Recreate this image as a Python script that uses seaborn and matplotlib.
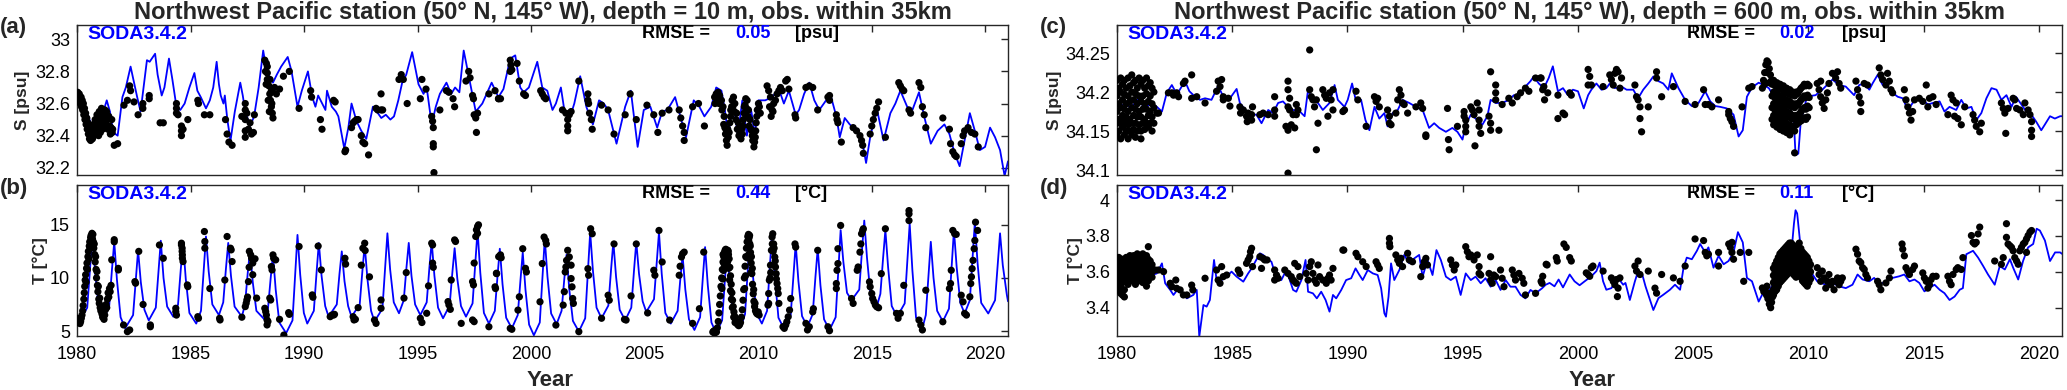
import matplotlib
matplotlib.use("Agg")
import matplotlib.pyplot as plt
import seaborn as sns

sns.set_theme(style="white")
plt.rcParams['font.family'] = ['Liberation Sans', 'DejaVu Sans']

# ---------------- data ----------------
year_ticks = [1980, 1985, 1990, 1995, 2000, 2005, 2010, 2015, 2020]

title_10 = "Northwest Pacific station (50° N, 145° W), depth = 10 m, obs. within 35km"
title_600 = "Northwest Pacific station (50° N, 145° W), depth = 600 m, obs. within 35km"
panel_labels = ["(a)", "(b)", "(c)", "(d)"]
model_name = "SODA3.4.2"
rmse_values = ["0.05", "0.44", "0.02", "0.11"]
rmse_units = ["[psu]", "[°C]", "[psu]", "[°C]"]
y_labels = ["S [psu]", "T [°C]", "S [psu]", "T [°C]"]

s10_ticks = [32.2, 32.4, 32.6, 32.8, 33.0]
s10_ticklabels = ["32.2", "32.4", "32.6", "32.8", "33"]
t10_ticks = [5, 10, 15]
t10_ticklabels = ["5", "10", "15"]
s600_ticks = [34.1, 34.15, 34.2, 34.25]
s600_ticklabels = ["34.1", "34.15", "34.2", "34.25"]
t600_ticks = [3.4, 3.6, 3.8, 4.0]
t600_ticklabels = ["3.4", "3.6", "3.8", "4"]

# ---- (a) salinity 10 m : model ----
s10_model = [
(1980.00,32.65),(1980.30,32.60),(1980.60,32.48),(1980.90,32.45),(1981.10,32.52),(1981.31,32.62),(1981.45,32.55),
(1981.60,32.42),(1981.79,32.40),(1982.00,32.64),(1982.15,32.70),(1982.36,32.83),(1982.51,32.73),(1982.65,32.64),
(1982.80,32.55),(1983.08,32.87),(1983.20,32.86),(1983.44,32.91),(1983.55,32.78),(1983.73,32.65),(1983.85,32.70),
(1984.05,32.88),(1984.20,32.75),(1984.38,32.58),(1984.55,32.56),(1984.74,32.60),(1984.95,32.70),(1985.17,32.79),
(1985.30,32.68),(1985.45,32.64),(1985.68,32.57),(1985.85,32.62),(1986.00,32.70),(1986.15,32.86),(1986.25,32.72),
(1986.33,32.65),(1986.45,32.60),(1986.51,32.65),(1986.62,32.50),(1986.76,32.37),(1986.95,32.55),(1987.19,32.73),
(1987.30,32.65),(1987.41,32.55),(1987.62,32.46),(1987.80,32.52),(1988.00,32.70),(1988.20,32.93),(1988.35,32.80),
(1988.63,32.73),(1988.80,32.78),(1988.99,32.83),(1989.28,32.89),(1989.45,32.80),(1989.71,32.58),(1989.90,32.68),
(1990.17,32.80),(1990.36,32.64),(1990.50,32.58),(1990.62,32.65),(1990.80,32.60),(1990.94,32.56),(1991.01,32.68),
(1991.22,32.58),(1991.40,32.55),(1991.51,32.52),(1991.77,32.32),(1991.95,32.45),(1992.09,32.60),(1992.31,32.49),
(1992.52,32.43),(1992.74,32.38),(1993.03,32.58),(1993.20,32.55),(1993.40,32.51),(1993.60,32.53),(1993.80,32.50),
(1993.96,32.52),(1994.15,32.62),(1994.32,32.73),(1994.50,32.78),(1994.76,32.92),(1995.04,32.72),(1995.26,32.66),
(1995.40,32.70),(1995.62,32.47),(1995.80,32.58),(1995.98,32.66),(1996.27,32.73),(1996.48,32.66),(1996.65,32.70),
(1996.84,32.67),(1997.03,32.93),(1997.28,32.75),(1997.56,32.55),(1997.85,32.60),(1998.10,32.68),(1998.26,32.73),
(1998.56,32.64),(1998.78,32.69),(1999.08,32.88),(1999.30,32.90),(1999.52,32.70),(1999.67,32.67),(1999.90,32.70),
(2000.27,32.86),(2000.49,32.70),(2000.71,32.68),(2000.94,32.56),(2001.09,32.60),(2001.31,32.70),(2001.46,32.56),
(2001.68,32.50),(2001.90,32.60),(2002.16,32.77),(2002.43,32.58),(2002.72,32.47),(2002.99,32.62),(2003.20,32.60),
(2003.39,32.56),(2003.76,32.35),(2004.14,32.58),(2004.39,32.68),(2004.69,32.33),(2004.96,32.56),(2005.25,32.58),
(2005.55,32.45),(2005.77,32.55),(2006.00,32.56),(2006.34,32.64),(2006.59,32.51),(2006.82,32.39),(2007.16,32.62),
(2007.41,32.58),(2007.63,32.52),(2007.93,32.58),(2008.15,32.70),(2008.38,32.68),(2008.53,32.56),(2008.68,32.40),
(2008.90,32.62),(2009.10,32.40),(2009.30,32.62),(2009.50,32.40),(2009.70,32.55),(2009.85,32.40),(2010.01,32.62),
(2010.31,32.62),(2010.61,32.64),(2010.91,32.69),(2011.13,32.60),(2011.35,32.68),(2011.65,32.53),(2011.80,32.56),
(2012.02,32.66),(2012.25,32.73),(2012.47,32.62),(2012.69,32.56),(2012.99,32.62),(2013.21,32.64),(2013.44,32.52),
(2013.59,32.39),(2013.81,32.51),(2014.03,32.47),(2014.33,32.43),(2014.55,32.39),(2014.75,32.23),(2014.93,32.39),
(2015.22,32.57),(2015.52,32.37),(2015.82,32.54),(2016.04,32.60),(2016.26,32.68),(2016.56,32.58),(2016.79,32.56),
(2017.08,32.67),(2017.31,32.52),(2017.60,32.35),(2017.90,32.43),(2018.20,32.47),(2018.42,32.41),(2018.65,32.29),
(2018.87,32.21),(2019.09,32.37),(2019.32,32.54),(2019.54,32.43),(2019.76,32.31),(2019.99,32.33),(2020.21,32.45),
(2020.43,32.39),(2020.65,32.31),(2020.85,32.15),(2021.00,32.24)]

# ---- (a) salinity 10 m : observations ----
s10_obs = [
(1980.00,32.66),(1980.00,32.62),(1980.03,32.67),(1980.05,32.64),(1980.07,32.61),(1980.10,32.66),(1980.12,32.63),
(1980.15,32.60),(1980.18,32.64),(1980.20,32.58),(1980.23,32.62),(1980.25,32.56),(1980.28,32.60),(1980.30,32.53),
(1980.33,32.57),(1980.35,32.50),(1980.38,32.54),(1980.40,32.47),(1980.43,32.51),(1980.45,32.44),(1980.48,32.48),
(1980.50,32.41),(1980.53,32.45),(1980.55,32.38),(1980.58,32.42),(1980.60,32.37),(1980.63,32.40),(1980.65,32.44),
(1980.68,32.38),(1980.70,32.42),(1980.73,32.47),(1980.75,32.40),(1980.78,32.45),(1980.80,32.50),(1980.83,32.43),
(1980.85,32.48),(1980.88,32.53),(1980.90,32.45),(1980.93,32.50),(1980.95,32.40),(1980.98,32.55),(1981.00,32.47),
(1981.03,32.42),(1981.05,32.52),(1981.08,32.57),(1981.10,32.48),(1981.13,32.44),(1981.15,32.54),(1981.18,32.50),
(1981.20,32.45),(1981.23,32.56),(1981.25,32.52),(1981.28,32.47),(1981.30,32.55),(1981.33,32.50),(1981.36,32.44),
(1981.40,32.52),(1981.43,32.46),(1981.47,32.41),(1981.50,32.45),(1981.53,32.50),(1981.55,32.42),
(1981.57,32.44),(1981.64,32.34),(1981.79,32.35),(1982.07,32.59),(1982.22,32.62),(1982.32,32.71),(1982.36,32.68),
(1982.51,32.61),(1982.69,32.53),(1982.90,32.60),(1982.90,32.57),(1983.18,32.65),(1983.18,32.63),(1983.66,32.48),
(1983.80,32.48),(1984.38,32.60),(1984.38,32.57),(1984.38,32.54),(1984.45,32.53),(1984.60,32.46),(1984.60,32.43),
(1984.60,32.40),(1984.67,32.44),(1984.88,32.50),(1985.32,32.62),(1985.35,32.60),(1985.61,32.53),(1985.85,32.53),
(1986.54,32.50),(1986.61,32.41),(1986.69,32.36),(1986.83,32.34),(1987.26,32.52),(1987.41,32.60),(1987.41,32.56),
(1987.41,32.50),(1987.41,32.43),(1987.41,32.39),(1987.48,32.54),(1987.55,32.44),(1987.62,32.48),(1987.69,32.41),
(1987.77,32.42),(1987.81,32.53),
(1988.27,32.87),(1988.34,32.85),(1988.38,32.83),(1988.38,32.79),(1988.38,32.75),(1988.45,32.71),(1988.49,32.66),
(1988.52,32.62),(1988.56,32.58),(1988.60,32.54),(1988.63,32.51),(1988.56,32.68),(1988.70,32.70),(1988.78,32.66),
(1988.92,32.69),(1989.09,32.77),(1989.35,32.80),(1988.30,32.80),(1988.33,32.72),(1988.42,32.62),(1988.47,32.55),
(1988.50,32.75),(1988.58,32.60),
(1989.78,32.57),(1990.29,32.68),(1990.33,32.64),(1990.72,32.50),(1990.79,32.44),(1991.30,32.62),(1991.37,32.61),
(1991.80,32.30),(1991.83,32.31),(1992.09,32.45),(1992.16,32.48),(1992.23,32.49),(1992.31,32.50),(1992.38,32.50),
(1992.52,32.40),(1992.59,32.36),(1992.67,32.35),(1992.84,32.28),(1993.17,32.57),(1993.24,32.56),(1993.39,32.66),
(1993.39,32.56),(1993.46,32.56),(1994.18,32.75),(1994.28,32.78),(1994.37,32.75),(1994.54,32.60),(1995.12,32.63),
(1995.19,32.75),(1995.37,32.69),(1995.62,32.52),(1995.66,32.49),(1995.69,32.45),(1995.69,32.35),(1995.69,32.33),
(1995.72,32.17),(1995.98,32.56),(1996.27,32.68),(1996.38,32.67),(1996.56,32.63),(1996.63,32.58),(1997.13,32.74),
(1997.25,32.80),(1997.31,32.76),(1997.42,32.65),(1997.46,32.63),(1997.49,32.53),(1997.56,32.51),(1997.59,32.42),
(1997.64,32.54),(1998.14,32.66),(1998.57,32.63),(1998.65,32.63),(1999.08,32.87),(1999.08,32.80),
(1998.41,32.68),(1998.56,32.63),(1999.11,32.84),(1999.15,32.81),(1999.38,32.85),(1999.48,32.74),(1999.67,32.66),
(1999.75,32.65),(2000.42,32.68),(2000.49,32.66),(2000.57,32.64),(2000.64,32.63),(2001.38,32.56),(2001.53,32.54),
(2001.61,32.50),(2001.61,32.46),(2001.68,32.53),(2001.76,32.55),(2001.61,32.43),(2002.10,32.74),(2002.50,32.66),
(2002.50,32.62),(2002.53,32.60),(2002.57,32.54),(2002.65,32.50),(2002.69,32.44),(2003.10,32.59),(2003.39,32.56),
(2003.65,32.41),(2004.14,32.53),(2004.36,32.66),(2004.63,32.50),(2005.10,32.59),(2005.40,32.53),(2005.58,32.42),
(2005.77,32.54),(2006.07,32.56),(2006.52,32.56),(2006.59,32.51),(2006.67,32.46),(2006.74,32.42),(2006.74,32.37),
(2007.11,32.58),(2007.37,32.60),(2007.63,32.46),
(2008.08,32.64),(2008.15,32.66),(2008.23,32.67),(2008.30,32.65),(2008.38,32.62),(2008.45,32.58),(2008.50,32.52),
(2008.53,32.45),(2008.56,32.41),(2008.60,32.37),(2008.63,32.34),(2008.68,32.39),(2008.75,32.48),(2008.79,32.56),
(2008.85,32.62),(2008.91,32.64),(2008.97,32.60),(2009.05,32.54),(2009.12,32.48),(2009.20,32.42),(2009.24,32.38),
(2009.30,32.41),(2009.35,32.50),(2009.39,32.58),(2009.45,32.63),(2009.51,32.62),(2009.57,32.56),(2009.64,32.50),
(2009.72,32.43),(2009.76,32.37),(2009.81,32.33),(2009.87,32.39),(2009.91,32.48),(2009.96,32.56),(2010.01,32.60),
(2010.09,32.54),(2008.10,32.60),(2008.20,32.62),(2008.28,32.60),(2008.40,32.56),(2008.48,32.47),(2008.58,32.44),
(2008.66,32.44),(2008.72,32.42),(2008.78,32.52),(2008.83,32.58),(2008.88,32.58),(2008.95,32.55),(2009.02,32.50),
(2009.08,32.44),(2009.15,32.40),(2009.27,32.44),(2009.32,32.46),(2009.38,32.54),(2009.42,32.59),(2009.48,32.57),
(2009.55,32.52),(2009.60,32.46),(2009.68,32.44),(2009.74,32.40),(2009.84,32.36),(2009.89,32.43),(2009.94,32.52),
(2010.05,32.58),
(2010.39,32.71),(2010.46,32.68),(2010.54,32.64),(2010.61,32.56),(2010.68,32.60),(2010.76,32.62),(2010.83,32.66),
(2010.91,32.68),(2010.98,32.70),(2011.06,32.68),(2011.21,32.74),(2011.28,32.75),(2011.35,32.69),(2010.50,32.58),
(2010.57,32.52),(2010.65,32.55),(2011.62,32.53),(2011.65,32.51),(2012.10,32.70),(2012.25,32.71),(2012.40,32.70),
(2012.62,32.56),(2013.07,32.64),(2013.14,32.65),(2013.14,32.62),(2013.44,32.53),(2013.47,32.50),(2013.51,32.48),
(2013.66,32.36),(2014.18,32.45),(2014.33,32.43),(2014.48,32.40),(2014.55,32.37),(2014.60,32.34),(2014.63,32.29),
(2014.93,32.41),(2015.00,32.46),(2015.07,32.50),(2015.15,32.54),(2015.22,32.57),(2015.30,32.61),(2015.60,32.39),
(2016.19,32.73),(2016.26,32.71),(2016.34,32.69),(2016.41,32.68),(2016.64,32.56),(2016.71,32.54),(2017.08,32.73),
(2017.16,32.70),(2017.23,32.58),(2017.31,32.53),(2017.38,32.45),(2018.13,32.51),(2018.42,32.44),(2018.47,32.35),
(2018.57,32.30),(2018.65,32.28),(2018.72,32.27),(2018.94,32.35),(2019.02,32.40),(2019.09,32.43),(2019.24,32.45),
(2019.39,32.42),(2019.54,32.41),(2019.69,32.33)]

# ---- (b) temperature 10 m : model ----
t10_model = [
(1980.00,6.1),(1980.13,6.0),(1980.45,7.2),(1980.58,11.0),(1980.68,14.0),(1980.80,10.5),(1980.96,7.2),
(1981.20,6.2),(1981.42,7.4),(1981.54,10.8),(1981.64,13.4),(1981.76,9.8),(1981.92,6.3),
(1982.12,5.25),(1982.47,6.5),(1982.59,9.9),(1982.69,12.6),(1982.81,9.6),(1982.97,7.0),
(1983.16,6.0),(1983.47,7.2),(1983.59,10.7),(1983.69,13.5),(1983.81,10.0),(1983.97,7.3),
(1984.24,6.35),(1984.45,7.5),(1984.57,10.8),(1984.67,13.3),(1984.79,9.9),(1984.95,6.7),
(1985.25,5.7),(1985.46,6.9),(1985.58,10.8),(1985.68,13.9),(1985.80,10.6),(1985.96,7.5),
(1986.25,6.5),(1986.44,7.7),(1986.56,10.9),(1986.66,13.3),(1986.78,10.2),(1986.94,7.3),
(1987.26,6.35),(1987.40,7.5),(1987.52,10.5),(1987.62,12.6),(1987.74,9.6),(1987.90,6.9),
(1988.34,5.9),(1988.41,7.1),(1988.53,10.0),(1988.63,12.2),(1988.75,8.9),(1988.91,5.8),
(1989.21,4.8),(1989.49,6.0),(1989.61,10.4),(1989.71,14.05),(1989.83,10.3),(1989.99,6.7),
(1990.14,5.7),(1990.43,6.9),(1990.55,10.5),(1990.65,13.3),(1990.77,10.2),(1990.93,7.35),
(1991.08,6.35),(1991.44,7.5),(1991.56,10.4),(1991.66,12.5),(1991.78,9.7),(1991.94,7.35),
(1992.09,6.35),(1992.45,7.5),(1992.57,10.7),(1992.67,13.1),(1992.79,9.9),(1992.95,6.9),
(1993.10,5.9),(1993.45,7.1),(1993.57,11.0),(1993.67,14.2),(1993.79,10.8),(1993.95,7.7),
(1994.18,6.67),(1994.39,7.9),(1994.51,11.0),(1994.61,13.3),(1994.73,10.2),(1994.89,7.5),
(1995.12,6.5),(1995.40,7.7),(1995.52,11.0),(1995.62,13.4),(1995.74,10.2),(1995.90,7.2),
(1996.12,6.2),(1996.41,7.4),(1996.53,10.5),(1996.63,12.8),(1996.75,9.9),(1996.91,7.35),
(1997.13,6.35),(1997.42,7.6),(1997.54,11.4),(1997.64,14.5),(1997.76,10.5),(1997.92,6.7),
(1998.14,5.7),(1998.40,6.9),(1998.52,10.2),(1998.62,12.75),(1998.74,9.4),(1998.90,6.25),
(1999.15,5.25),(1999.41,6.5),(1999.53,9.8),(1999.63,12.4),(1999.75,8.9),(1999.91,5.6),
(2000.12,4.6),(2000.38,5.8),(2000.50,10.2),(2000.60,13.7),(2000.72,10.1),(2000.88,6.65),
(2001.12,5.65),(2001.34,6.9),(2001.46,9.9),(2001.56,12.2),(2001.68,8.9),(2001.84,5.95),
(2002.10,4.95),(2002.38,6.2),(2002.50,10.6),(2002.60,14.3),(2002.72,10.7),(2002.88,7.2),
(2003.10,6.2),(2003.40,7.4),(2003.52,10.8),(2003.62,13.4),(2003.74,10.1),(2003.90,7.0),
(2004.14,6.0),(2004.41,7.2),(2004.53,10.7),(2004.63,13.4),(2004.75,10.4),(2004.91,7.8),
(2005.07,6.8),(2005.41,8.0),(2005.53,11.5),(2005.63,14.3),(2005.75,10.4),(2005.91,6.7),
(2006.15,5.7),(2006.45,6.9),(2006.57,9.9),(2006.67,12.1),(2006.79,8.9),(2006.95,6.1),
(2007.19,5.1),(2007.44,6.3),(2007.56,10.0),(2007.66,12.9),(2007.78,9.3),(2007.94,5.8),
(2008.15,4.8),(2008.41,6.0),(2008.53,9.7),(2008.63,12.6),(2008.75,9.4),(2008.91,6.4),
(2009.24,5.4),(2009.42,6.6),(2009.54,10.8),(2009.64,14.2),(2009.76,10.4),(2009.92,6.7),
(2010.16,5.7),(2010.39,6.9),(2010.51,11.0),(2010.61,14.2),(2010.73,10.2),(2010.89,6.25),
(2011.13,5.25),(2011.43,6.5),(2011.55,10.2),(2011.65,13.2),(2011.77,9.7),(2011.93,6.4),
(2012.17,5.4),(2012.40,6.6),(2012.52,10.1),(2012.62,12.75),(2012.74,9.3),(2012.90,6.1),
(2013.14,5.1),(2013.41,6.3),(2013.53,10.8),(2013.63,14.5),(2013.75,11.5),(2013.91,8.6),
(2014.11,7.9),(2014.45,8.9),(2014.57,12.6),(2014.67,15.4),(2014.79,11.9),(2014.95,8.3),
(2015.22,7.3),(2015.38,8.5),(2015.50,11.9),(2015.60,14.5),(2015.72,11.0),(2015.88,7.35),
(2016.12,6.35),(2016.45,7.6),(2016.57,11.7),(2016.67,15.1),(2016.79,10.7),(2016.95,6.25),
(2017.23,5.25),(2017.38,6.5),(2017.50,10.3),(2017.60,13.4),(2017.72,10.0),(2017.88,6.9),
(2018.13,5.9),(2018.40,7.1),(2018.52,11.2),(2018.62,14.5),(2018.74,11.0),(2018.90,7.65),
(2019.09,6.65),(2019.32,7.9),(2019.44,12.0),(2019.54,15.25),(2019.66,11.4),(2019.82,7.65),
(2020.13,6.65),(2020.43,7.9),(2020.55,11.4),(2020.65,14.2),(2020.77,11.2),(2020.95,8.4),(2021.00,7.8)]

# ---- (b) temperature 10 m : observations ----
t10_obs = [
(1980.00,6.2),(1980.02,5.9),(1980.05,6.0),(1980.08,5.8),(1980.10,6.1),(1980.13,5.7),(1980.16,5.9),(1980.19,6.2),
(1980.22,6.5),(1980.25,6.9),(1980.27,7.4),(1980.30,8.0),(1980.32,8.6),(1980.34,9.2),(1980.36,9.8),(1980.38,10.3),
(1980.40,9.6),(1980.42,10.9),(1980.44,11.4),(1980.46,10.8),(1980.48,12.0),(1980.50,12.5),(1980.52,11.8),(1980.54,13.0),
(1980.56,13.4),(1980.58,12.8),(1980.60,13.8),(1980.62,14.0),(1980.64,13.6),(1980.66,14.2),(1980.68,13.7),(1980.70,14.1),
(1980.72,13.4),(1980.74,12.8),(1980.76,13.2),(1980.78,12.2),(1980.80,11.5),(1980.82,12.0),(1980.84,10.8),(1980.86,10.0),
(1980.88,10.6),(1980.90,9.3),(1980.92,8.7),(1980.94,9.2),(1980.96,8.0),(1980.98,7.6),(1981.00,8.1),(1981.02,7.2),
(1981.05,6.9),(1981.08,7.3),(1981.10,6.6),(1981.13,6.3),(1981.16,6.7),(1981.19,6.1),(1981.22,6.5),(1981.25,7.0),
(1981.28,7.5),(1981.31,7.2),(1981.34,8.0),(1981.37,8.6),(1981.40,8.2),(1981.43,9.0),(1981.46,8.7),(1981.50,9.3),
(1981.53,11.7),(1981.64,13.6),(1981.64,13.4),(1981.82,10.9),(1981.82,10.75),(1982.05,5.57),(1982.22,4.94),(1982.32,5.1),
(1982.55,9.65),(1982.58,9.5),(1982.72,12.5),(1982.91,7.5),(1983.23,5.57),(1983.23,5.4),(1983.63,13.1),(1983.80,11.85),
(1984.35,7.14),(1984.35,6.82),(1984.38,6.5),(1984.60,13.27),(1984.60,13.1),(1984.63,12.8),(1984.63,12.5),(1984.64,12.17),
(1984.64,11.85),(1984.67,11.54),(1984.86,9.34),(1984.88,9.18),(1985.32,6.35),(1985.35,6.2),(1985.61,14.37),(1985.63,13.43),
(1985.63,12.8),(1985.85,9.0),(1986.28,6.2),(1986.30,6.04),(1986.51,9.8),(1986.61,13.9),(1986.76,12.8),(1986.79,12.64),
(1986.83,11.54),(1987.26,6.3),(1987.41,7.3),(1987.45,7.61),(1987.48,7.92),(1987.51,8.2),(1987.55,9.65),(1987.58,11.0),
(1987.59,12.5),(1987.65,12.17),(1987.69,11.85),(1987.74,11.4),(1987.74,10.3),(1987.84,11.8),(1987.91,8.1),(1988.27,7.14),
(1988.31,6.82),(1988.34,6.5),(1988.37,6.04),(1988.37,5.57),(1988.41,5.9),(1988.49,8.1),(1988.53,7.92),(1988.56,11.07),
(1988.59,10.75),(1988.63,12.17),(1988.66,11.85),(1988.75,11.7),(1988.92,6.1),(1989.11,4.62),(1989.32,6.73),(1989.35,6.57),
(1989.78,12.96),(1990.36,8.4),(1990.39,8.18),(1990.62,13.0),(1990.76,10.75),(1991.15,6.35),(1991.22,6.5),(1991.30,6.5),
(1991.34,6.57),(1991.80,11.85),(1991.83,11.3),(1992.16,6.35),(1992.20,6.04),(1992.26,6.1),(1992.38,7.2),(1992.52,11.2),
(1992.59,12.8),(1992.67,13.27),(1992.69,12.58),(1992.88,10.1),(1993.10,6.04),(1993.17,5.72),(1993.39,7.92),(1993.39,7.14),
(1994.40,8.1),(1994.50,10.5),(1995.12,6.2),(1995.19,5.8),(1995.40,6.67),(1995.48,9.25),(1995.62,13.27),(1995.66,13.1),
(1995.66,11.4),(1995.69,11.0),(1996.34,7.77),(1996.38,7.45),(1996.44,7.04),(1996.48,9.8),(1996.63,13.58),(1996.67,13.43),
(1996.92,5.72),(1997.42,6.04),(1997.49,5.88),(1997.42,9.65),(1997.46,9.34),(1997.49,11.4),(1997.56,13.9),(1997.59,14.53),
(1997.64,14.84),(1997.68,15.0),(1997.64,14.2),(1998.14,5.4),(1998.43,9.0),(1998.47,10.44),(1998.57,12.0),(1998.65,12.17),
(1999.08,5.25),(1998.41,9.16),(1998.48,10.4),(1998.63,12.1),(1998.68,11.9),(1999.15,5.16),(1999.42,6.97),(1999.48,8.22),
(1999.63,12.75),(1999.75,10.9),(1999.79,10.56),(2000.39,7.75),(2000.49,11.35),(2000.57,13.85),(2000.64,13.53),(2000.67,13.2),
(2001.09,5.56),(2001.41,7.44),(2001.46,8.7),(2001.50,10.56),(2001.53,11.03),(2001.56,11.65),(2001.61,12.6),(2001.68,11.97),
(2001.76,11.2),(2001.76,9.94),(2001.80,9.16),(2001.83,8.06),(2001.86,7.6),(2002.10,4.94),(2002.50,10.87),(2002.53,10.25),
(2002.62,14.63),(2002.69,14.16),(2003.10,6.2),(2003.39,8.37),(2003.44,7.9),(2003.65,13.2),(2004.11,6.1),(2004.18,6.03),
(2004.40,8.3),(2004.63,13.2),(2005.13,6.7),(2005.40,10.72),(2005.45,10.25),(2005.63,14.47),(2005.77,11.5),(2006.10,6.03),
(2006.52,10.25),(2006.56,11.1),(2006.62,11.97),(2006.67,12.28),(2006.74,12.43),(2007.11,5.72),(2007.41,7.1),(2007.60,12.43),
(2008.00,4.9),(2008.04,5.0),(2008.08,4.8),(2008.12,5.1),(2008.16,4.9),(2008.20,5.3),(2008.24,5.9),(2008.27,6.7),
(2008.30,7.5),(2008.33,8.3),(2008.36,9.2),(2008.39,10.0),(2008.42,10.8),(2008.45,11.5),(2008.48,12.0),(2008.51,12.4),
(2008.54,12.6),(2008.57,12.7),(2008.60,12.6),(2008.63,12.4),(2008.66,12.6),(2008.69,12.2),(2008.72,11.8),(2008.75,11.0),
(2008.78,10.2),(2008.81,9.4),(2008.84,8.6),(2008.87,7.9),(2008.90,7.3),(2008.93,6.8),(2008.96,6.4),(2008.99,6.1),
(2009.02,5.9),(2009.06,5.7),(2009.10,5.6),(2009.14,5.5),(2009.18,5.6),(2009.22,5.8),(2009.26,6.3),(2009.30,7.0),
(2009.33,7.9),(2009.36,8.9),(2009.39,10.0),(2009.42,11.1),(2009.45,12.0),(2009.48,12.8),(2009.51,13.4),(2009.54,13.9),
(2009.57,14.1),(2009.60,13.8),(2009.63,13.2),(2009.66,12.4),(2009.69,11.4),(2009.72,10.4),(2009.75,9.4),(2009.78,8.5),
(2009.81,7.8),(2009.84,7.3),(2009.88,6.9),(2009.92,6.7),(2009.96,6.6),(2010.00,6.8),(2010.04,6.5),
(2008.40,9.0),(2008.44,9.9),(2008.47,10.7),(2008.50,11.3),(2008.55,11.6),(2008.60,11.2),(2008.65,11.5),(2008.70,10.9),
(2008.74,9.8),(2008.78,8.8),(2008.82,8.0),(2008.86,7.2),(2008.92,6.3),(2008.98,5.8),(2008.45,12.2),(2008.58,12.3),
(2008.68,12.5),(2009.40,9.0),(2009.44,10.2),(2009.50,11.9),(2009.55,12.9),(2009.58,13.5),(2009.62,14.0),(2009.65,13.0),
(2009.70,12.0),(2009.74,10.9),(2009.80,8.9),(2009.86,7.6),(2009.58,12.2),(2009.63,11.8),(2009.68,10.5),
(2010.46,7.6),(2010.46,8.53),(2010.49,9.78),(2010.54,11.2),(2010.58,12.6),(2010.61,13.85),(2010.64,14.16),(2010.68,13.2),
(2010.73,11.97),(2010.76,11.03),(2010.79,10.4),(2010.83,9.47),(2010.88,8.53),(2010.91,7.6),(2010.43,7.44),(2010.62,13.2),
(2010.66,12.5),(2010.70,12.8),(2010.75,11.6),(2010.80,9.9),(2010.86,9.0),(2010.55,10.5),(2010.52,10.0),
(2011.09,5.4),(2011.15,5.25),(2011.21,5.56),(2011.26,5.87),(2011.32,6.34),(2011.38,6.97),(2011.43,8.06),(2011.62,13.2),
(2011.65,12.9),(2012.10,5.72),(2012.17,5.1),(2012.25,5.4),(2012.40,6.8),(2012.43,7.1),(2012.62,12.6),(2013.07,5.4),
(2013.14,5.03),(2013.44,9.47),(2013.44,9.0),(2013.47,10.72),(2013.51,11.35),(2013.51,12.75),(2013.63,14.94),(2014.11,8.06),
(2014.18,7.6),(2014.36,10.72),(2014.40,11.03),(2014.48,12.43),(2014.52,13.2),(2014.55,14.16),(2014.60,14.47),(2014.63,14.63),
(2014.90,9.63),(2014.93,9.16),(2015.00,8.53),(2015.04,8.06),(2015.10,7.75),(2015.16,7.44),(2015.22,7.28),(2015.30,7.19),
(2015.42,10.4),(2015.60,14.63),(2016.09,6.66),(2016.16,6.2),(2016.26,6.66),(2016.41,9.3),(2016.64,16.34),(2016.64,16.03),
(2016.64,15.4),(2017.08,6.03),(2017.16,5.56),(2017.23,5.1),(2017.38,8.84),(2018.13,5.87),(2018.42,9.0),(2018.47,9.47),
(2018.50,10.72),(2018.57,14.47),(2018.65,14.16),(2018.72,14.1),(2018.94,8.37),(2019.02,7.75),(2019.09,6.66),(2019.17,6.5),
(2019.32,8.22),(2019.36,9.47),(2019.39,10.1),(2019.42,10.87),(2019.46,11.65),(2019.51,12.75),(2019.54,13.53),(2019.57,15.25),
(2019.66,14.47)]

# ---- (c) salinity 600 m : model ----
s600_model = [
(1980.00,34.175),(1980.30,34.185),(1980.60,34.180),(1980.90,34.190),(1981.20,34.180),(1981.50,34.185),
(1981.73,34.181),(1981.95,34.175),(1982.16,34.199),(1982.38,34.209),(1982.60,34.197),(1982.95,34.214),(1983.14,34.201),
(1983.39,34.194),(1983.60,34.190),(1983.82,34.192),(1984.10,34.190),(1984.39,34.208),(1984.61,34.194),(1984.90,34.192),
(1985.19,34.204),(1985.33,34.186),(1985.62,34.175),(1985.84,34.171),(1986.05,34.171),(1986.27,34.160),(1986.56,34.177),
(1986.77,34.173),(1986.99,34.186),(1987.20,34.188),(1987.42,34.181),(1987.64,34.177),(1987.93,34.175),(1988.14,34.169),
(1988.29,34.203),(1988.47,34.190),(1988.72,34.186),(1988.93,34.177),(1989.22,34.186),(1989.44,34.209),(1989.58,34.190),
(1989.87,34.181),(1990.01,34.190),(1990.20,34.211),(1990.37,34.188),(1990.59,34.190),(1990.78,34.164),(1990.95,34.151),
(1991.17,34.181),(1991.38,34.166),(1991.60,34.173),(1991.74,34.156),(1991.96,34.173),(1992.18,34.177),(1992.39,34.190),
(1992.68,34.186),(1992.97,34.181),(1993.26,34.177),(1993.54,34.154),(1993.76,34.160),(1993.98,34.154),(1994.27,34.149),
(1994.55,34.154),(1994.77,34.149),(1994.99,34.139),(1995.13,34.158),(1995.35,34.171),(1995.56,34.166),(1995.85,34.158),
(1996.07,34.169),(1996.21,34.190),(1996.43,34.186),(1996.72,34.186),(1997.00,34.190),(1997.22,34.196),(1997.43,34.194),
(1997.72,34.207),(1997.94,34.214),(1998.08,34.220),(1998.30,34.211),(1998.52,34.205),(1998.73,34.218),(1998.91,34.233),
(1999.13,34.201),(1999.35,34.205),(1999.56,34.196),(1999.78,34.203),(2000.00,34.201),(2000.25,34.179),(2000.44,34.196),
(2000.58,34.203),(2000.80,34.211),(2001.02,34.203),(2001.23,34.205),(2001.38,34.211),(2001.60,34.205),(2001.89,34.207),
(2002.11,34.203),(2002.40,34.203),(2002.61,34.192),(2002.83,34.203),(2003.05,34.211),(2003.27,34.220),(2003.49,34.214),
(2003.70,34.211),(2003.92,34.203),(2004.07,34.224),(2004.36,34.205),(2004.65,34.190),(2004.94,34.182),(2005.23,34.186),
(2005.52,34.201),(2005.74,34.188),(2005.96,34.182),(2006.17,34.181),(2006.46,34.179),(2006.75,34.171),(2006.97,34.143),
(2007.15,34.151),(2007.33,34.194),(2007.55,34.206),(2007.84,34.212),(2008.06,34.209),(2008.28,34.205),(2008.60,34.190),
(2008.90,34.180),(2009.20,34.180),(2009.37,34.160),(2009.44,34.119),(2009.56,34.121),(2009.66,34.160),(2009.90,34.190),
(2010.10,34.195),(2010.31,34.196),(2010.60,34.203),(2011.04,34.216),(2011.33,34.209),(2011.62,34.207),(2011.98,34.196),
(2012.20,34.209),(2012.42,34.211),(2012.64,34.203),(2012.78,34.211),(2013.00,34.222),(2013.22,34.209),(2013.43,34.207),
(2013.65,34.199),(2013.87,34.194),(2014.09,34.192),(2014.31,34.177),(2014.52,34.186),(2014.74,34.194),(2014.96,34.190),
(2015.18,34.184),(2015.40,34.186),(2015.69,34.188),(2015.90,34.175),(2016.12,34.181),(2016.41,34.177),(2016.63,34.190),
(2016.85,34.179),(2017.07,34.181),(2017.28,34.164),(2017.50,34.173),(2017.72,34.192),(2017.94,34.205),(2018.16,34.203),
(2018.37,34.190),(2018.59,34.196),(2018.81,34.181),(2019.00,34.194),(2019.24,34.184),(2019.45,34.175),(2019.67,34.171),
(2019.88,34.162),(2020.10,34.151),(2020.25,34.158),(2020.48,34.169),(2020.69,34.166),(2020.92,34.169),(2021.00,34.169)]

# ---- (c) salinity 600 m : observations (dense periods given per sampling time) ----
s600_obs_dense = [
(1980.00,[34.215,34.195,34.175,34.160,34.145]),(1980.08,[34.205,34.185,34.165,34.150]),
(1980.16,[34.218,34.200,34.180,34.160,34.140]),(1980.24,[34.210,34.190,34.170,34.155]),
(1980.32,[34.215,34.197,34.178,34.162,34.145]),(1980.40,[34.205,34.185,34.168,34.150]),
(1980.48,[34.218,34.195,34.175,34.158,34.140]),(1980.56,[34.208,34.188,34.165,34.150]),
(1980.64,[34.222,34.200,34.180,34.160,34.145]),(1980.72,[34.212,34.190,34.170,34.152]),
(1980.80,[34.215,34.198,34.178,34.160,34.142]),(1980.88,[34.205,34.185,34.168,34.150]),
(1980.96,[34.218,34.195,34.175,34.158]),(1981.04,[34.210,34.188,34.168,34.150,34.140]),
(1981.12,[34.215,34.195,34.178,34.160]),(1981.20,[34.205,34.185,34.165,34.152]),
(1981.28,[34.218,34.198,34.178,34.160]),(1981.36,[34.208,34.188,34.170,34.155]),
(1981.44,[34.212,34.195,34.175,34.160]),(1981.52,[34.205,34.185,34.168,34.150]),
(1981.60,[34.200,34.180,34.160]),
(2008.00,[34.205]),(2008.05,[34.215]),(2008.10,[34.225,34.210]),(2008.15,[34.235]),(2008.20,[34.240,34.225]),
(2008.25,[34.238]),(2008.30,[34.230,34.212]),(2008.35,[34.222]),(2008.40,[34.215]),
(2008.42,[34.210,34.195,34.180,34.165]),(2008.49,[34.215,34.200,34.185,34.170,34.158]),
(2008.56,[34.208,34.192,34.176,34.162]),(2008.63,[34.212,34.198,34.183,34.168,34.155]),
(2008.70,[34.205,34.190,34.175,34.160]),(2008.77,[34.210,34.195,34.180,34.165,34.152]),
(2008.84,[34.203,34.188,34.172,34.158]),(2008.91,[34.208,34.193,34.178,34.163,34.150]),
(2008.98,[34.200,34.185,34.170,34.157]),(2009.05,[34.205,34.190,34.175,34.160,34.148]),
(2009.12,[34.198,34.183,34.168,34.155]),(2009.19,[34.203,34.188,34.173,34.158,34.145]),
(2009.26,[34.196,34.181,34.166,34.152]),(2009.33,[34.200,34.185,34.170,34.156]),
(2009.40,[34.195,34.180,34.165,34.150,34.122]),(2009.47,[34.200,34.185,34.170,34.158]),
(2009.54,[34.198,34.183,34.168,34.160]),(2009.61,[34.202,34.187,34.172,34.162]),
(2009.68,[34.205,34.190,34.175,34.163]),(2009.75,[34.207,34.192,34.178,34.165]),
(2009.82,[34.210,34.195,34.180,34.167]),(2009.89,[34.208,34.193,34.178,34.165]),
(2009.96,[34.210,34.196,34.182,34.168]),(2010.03,[34.208,34.193,34.180])]

s600_obs = [
(1981.73,34.173),(1981.80,34.173),(1982.23,34.199),(1982.38,34.199),(1982.45,34.196),(1982.59,34.199),(1982.67,34.194),
(1982.88,34.211),(1982.95,34.214),(1983.24,34.222),(1983.24,34.192),(1983.46,34.194),(1983.82,34.186),(1984.32,34.201),
(1984.39,34.214),(1984.47,34.207),(1984.54,34.216),(1984.61,34.190),(1984.61,34.194),(1984.83,34.192),(1984.90,34.182),
(1985.33,34.181),(1985.36,34.173),(1985.48,34.177),(1985.62,34.169),(1985.65,34.162),(1985.69,34.173),(1985.84,34.171),
(1985.84,34.164),(1985.88,34.181),(1986.20,34.171),(1986.34,34.173),(1986.56,34.171),(1986.84,34.169),(1986.84,34.194),
(1986.84,34.177),(1987.42,34.214),(1987.42,34.203),(1987.49,34.192),(1987.42,34.181),(1987.49,34.177),(1987.33,34.156),
(1987.42,34.151),(1987.56,34.158),(1987.71,34.154),(1987.64,34.171),(1987.78,34.184),(1987.78,34.171),(1987.85,34.177),
(1987.42,34.096),(1988.36,34.254),(1988.36,34.203),(1988.43,34.194),(1988.50,34.190),(1988.57,34.181),(1988.65,34.190),
(1988.65,34.126),(1988.72,34.160),(1988.93,34.203),(1989.01,34.196),(1989.08,34.192),(1989.15,34.169),(1989.22,34.199),
(1989.29,34.190),(1989.37,34.203),(1989.37,34.177),(1989.80,34.175),(1989.87,34.177),(1990.37,34.201),(1990.45,34.190),
(1990.81,34.156),(1991.17,34.194),(1991.24,34.188),(1991.31,34.192),(1991.38,34.181),(1991.74,34.177),(1991.82,34.169),
(1991.82,34.160),(1991.89,34.158),(1992.10,34.173),(1992.18,34.190),(1992.25,34.203),(1992.32,34.196),(1992.39,34.186),
(1992.46,34.184),(1992.61,34.173),(1992.97,34.181),(1993.18,34.186),(1993.26,34.179),(1993.40,34.145),(1993.40,34.143),
(1994.34,34.179),(1994.38,34.139),(1994.41,34.126),(1994.77,34.156),(1995.06,34.175),(1995.06,34.169),(1995.13,34.164),
(1995.13,34.156),(1995.13,34.149),(1995.35,34.181),(1995.42,34.177),(1995.49,34.171),(1995.53,34.131),(1995.63,34.186),
(1995.71,34.177),(1995.71,34.164),(1995.71,34.156),(1995.78,34.147),(1996.14,34.169),(1996.21,34.160),(1996.21,34.151),
(1996.21,34.226),(1996.43,34.209),(1996.43,34.199),(1996.43,34.190),(1996.57,34.151),(1996.71,34.184),(1997.00,34.192),
(1997.15,34.186),(1997.36,34.194),(1997.51,34.199),(1997.72,34.205),(1997.87,34.201),(1998.16,34.218),(1998.37,34.218),
(1998.52,34.207),(1998.40,34.218),(1998.47,34.203),(1998.55,34.190),(1998.69,34.199),(1999.13,34.196),(1999.13,34.166),
(1999.35,34.173),(1999.42,34.171),(1999.64,34.199),(1999.71,34.196),(2000.44,34.229),(2000.51,34.220),(2000.44,34.209),
(2000.58,34.209),(2001.09,34.207),(2001.38,34.222),(2001.45,34.216),(2001.60,34.224),(2001.67,34.229),(2001.74,34.226),
(2001.53,34.209),(2001.82,34.205),(2001.89,34.218),(2002.47,34.209),(2002.54,34.194),(2002.61,34.190),(2002.69,34.181),
(2002.69,34.166),(2002.76,34.149),(2003.05,34.181),(2003.41,34.226),(2003.41,34.218),(2003.63,34.194),(2004.14,34.207),
(2004.65,34.188),(2005.08,34.184),(2005.45,34.203),(2005.52,34.184),(2005.66,34.184),(2005.81,34.181),(2006.10,34.190),
(2006.54,34.175),(2006.54,34.171),(2006.61,34.166),(2006.68,34.162),(2006.75,34.156),(2007.12,34.181),(2007.41,34.205),
(2007.55,34.207),(2010.38,34.211),(2010.46,34.203),(2010.53,34.194),(2010.60,34.186),(2010.68,34.179),(2010.75,34.190),
(2010.82,34.199),(2010.89,34.211),(2010.53,34.214),(2011.04,34.224),(2011.18,34.218),(2011.33,34.211),(2011.40,34.205),
(2011.26,34.226),(2012.06,34.214),(2012.13,34.203),(2012.20,34.194),(2012.27,34.186),(2012.27,34.175),(2012.42,34.211),
(2012.56,34.209),(2013.07,34.231),(2013.14,34.222),(2013.22,34.216),(2013.36,34.209),(2013.43,34.224),(2013.51,34.214),
(2013.58,34.203),(2013.65,34.199),(2014.16,34.203),(2014.23,34.190),(2014.31,34.181),(2014.38,34.173),(2014.45,34.164),
(2014.52,34.175),(2014.60,34.190),(2014.81,34.192),(2014.96,34.188),(2015.11,34.209),(2015.18,34.181),(2015.25,34.192),
(2015.40,34.194),(2015.54,34.184),(2016.05,34.171),(2016.19,34.196),(2016.27,34.190),(2016.34,34.169),(2016.41,34.186),
(2016.48,34.166),(2016.63,34.158),(2016.78,34.181),(2017.14,34.171),(2017.21,34.164),(2017.28,34.156),(2017.43,34.149),
(2017.50,34.160),(2018.37,34.186),(2018.45,34.179),(2018.52,34.173),(2018.56,34.147),(2018.66,34.179),(2018.88,34.192),
(2018.95,34.190),(2019.03,34.179),(2019.17,34.177),(2019.32,34.171),(2019.39,34.186),(2019.53,34.177),(2019.61,34.171),
(2019.68,34.162),(2019.68,34.151),(2019.68,34.143)]

# ---- (d) temperature 600 m : model ----
t600_model = [
(1980.00,3.517),(1980.14,3.508),(1980.40,3.550),(1980.70,3.560),(1981.00,3.560),(1981.30,3.570),(1981.51,3.582),
(1981.73,3.591),(1981.95,3.647),(1982.09,3.536),(1982.31,3.499),(1982.45,3.471),(1982.67,3.508),(1982.88,3.480),
(1983.03,3.452),(1983.31,3.471),(1983.46,3.499),(1983.57,3.239),(1983.75,3.415),(1983.89,3.406),(1984.03,3.443),
(1984.21,3.666),(1984.32,3.554),(1984.54,3.554),(1984.76,3.573),(1984.97,3.601),(1985.19,3.573),(1985.48,3.545),
(1985.69,3.591),(1985.84,3.619),(1986.20,3.703),(1986.34,3.694),(1986.48,3.675),(1986.70,3.656),(1986.92,3.564),
(1987.13,3.554),(1987.35,3.610),(1987.64,3.499),(1987.78,3.489),(1988.00,3.554),(1988.18,3.666),(1988.29,3.489),
(1988.50,3.480),(1988.67,3.452),(1988.86,3.489),(1989.05,3.443),(1989.22,3.378),(1989.37,3.471),(1989.51,3.452),
(1989.73,3.499),(1989.94,3.554),(1990.16,3.564),(1990.35,3.619),(1990.52,3.582),(1990.66,3.554),(1990.88,3.610),
(1991.10,3.591),(1991.31,3.582),(1991.46,3.508),(1991.60,3.369),(1991.67,3.350),(1991.78,3.461),(1991.89,3.647),
(1992.03,3.554),(1992.25,3.610),(1992.46,3.694),(1992.68,3.647),(1992.90,3.675),(1993.11,3.694),(1993.26,3.573),
(1993.47,3.666),(1993.69,3.582),(1993.86,3.721),(1994.05,3.666),(1994.27,3.573),(1994.48,3.554),(1994.70,3.573),
(1994.91,3.471),(1995.13,3.591),(1995.35,3.554),(1995.56,3.573),(1995.78,3.536),(1995.99,3.564),(1996.21,3.517),
(1996.43,3.554),(1996.64,3.499),(1996.86,3.554),(1997.07,3.517),(1997.29,3.517),(1997.51,3.471),(1997.72,3.452),
(1997.94,3.499),(1998.16,3.480),(1998.44,3.508),(1998.60,3.528),(1998.77,3.538),(1998.98,3.519),(1999.16,3.557),
(1999.35,3.513),(1999.64,3.585),(1999.85,3.547),(2000.07,3.525),(2000.29,3.547),(2000.58,3.575),(2000.80,3.604),
(2000.94,3.651),(2001.09,3.547),(2001.23,3.500),(2001.45,3.509),(2001.74,3.566),(2001.96,3.528),(2002.06,3.538),
(2002.25,3.443),(2002.47,3.547),(2002.61,3.604),(2002.79,3.585),(2002.93,3.519),(2003.27,3.387),(2003.49,3.453),
(2003.70,3.472),(2003.99,3.500),(2004.21,3.528),(2004.43,3.500),(2004.58,3.623),(2004.72,3.679),(2004.94,3.670),
(2005.16,3.717),(2005.30,3.755),(2005.52,3.708),(2005.66,3.736),(2005.88,3.623),(2006.10,3.689),(2006.32,3.642),
(2006.53,3.660),(2006.75,3.708),(2006.94,3.821),(2007.15,3.764),(2007.33,3.566),(2007.55,3.547),(2007.84,3.434),
(2007.99,3.472),(2008.28,3.491),(2008.60,3.560),(2008.90,3.600),(2009.20,3.620),(2009.37,3.868),(2009.44,3.943),
(2009.51,3.925),(2009.66,3.736),(2009.90,3.600),(2010.10,3.600),(2010.38,3.547),(2010.75,3.528),(2011.04,3.538),
(2011.33,3.519),(2011.62,3.509),(2011.91,3.528),(2012.13,3.585),(2012.35,3.557),(2012.64,3.547),(2012.85,3.566),
(2013.07,3.528),(2013.36,3.547),(2013.65,3.566),(2013.94,3.575),(2014.16,3.585),(2014.38,3.547),(2014.60,3.557),
(2014.81,3.538),(2015.03,3.491),(2015.25,3.509),(2015.47,3.528),(2015.69,3.500),(2015.90,3.481),(2016.12,3.443),
(2016.34,3.462),(2016.56,3.500),(2016.70,3.509),(2016.85,3.698),(2017.14,3.717),(2017.36,3.679),(2017.58,3.632),
(2017.79,3.585),(2018.08,3.528),(2018.30,3.632),(2018.52,3.613),(2018.74,3.670),(2018.88,3.623),(2019.10,3.557),
(2019.31,3.660),(2019.53,3.736),(2019.75,3.755),(2019.90,3.840),(2020.04,3.830),(2020.26,3.774),(2020.48,3.660),
(2020.70,3.708),(2020.92,3.708),(2021.00,3.700)]

# ---- (d) temperature 600 m : observations ----
t600_obs_dense = [
(1980.00,[3.66,3.62,3.58,3.54,3.50]),(1980.08,[3.68,3.64,3.60,3.55,3.51]),(1980.16,[3.65,3.61,3.57,3.52,3.48]),
(1980.24,[3.67,3.63,3.59,3.54,3.47]),(1980.32,[3.65,3.61,3.56,3.50,3.46]),(1980.40,[3.68,3.64,3.60,3.55]),
(1980.48,[3.66,3.62,3.58,3.53]),(1980.56,[3.69,3.65,3.61,3.57]),(1980.64,[3.67,3.63,3.59,3.55]),
(1980.72,[3.69,3.65,3.61,3.57]),(1980.80,[3.68,3.64,3.60,3.56,3.53]),(1980.88,[3.70,3.66,3.62,3.58]),
(1980.96,[3.67,3.63,3.59,3.55]),(1981.04,[3.69,3.65,3.61,3.57]),(1981.12,[3.70,3.66,3.62,3.58,3.54]),
(1981.20,[3.68,3.64,3.60,3.56]),(1981.28,[3.69,3.65,3.61,3.57,3.52]),(1981.36,[3.74,3.67,3.63,3.59,3.55]),
(1981.44,[3.66,3.62,3.58]),(1981.52,[3.64,3.60,3.57]),
(2008.00,[3.51]),(2008.06,[3.49]),(2008.12,[3.50]),(2008.18,[3.47]),(2008.20,[3.52]),(2008.24,[3.45]),
(2008.26,[3.48]),(2008.30,[3.42]),(2008.34,[3.44]),(2008.36,[3.40]),(2008.40,[3.43]),(2008.44,[3.46]),
(2008.48,[3.62,3.58,3.54,3.50,3.47]),(2008.55,[3.64,3.60,3.56,3.52,3.49]),(2008.62,[3.66,3.62,3.58,3.54,3.50]),
(2008.69,[3.68,3.64,3.60,3.56,3.52]),(2008.76,[3.70,3.66,3.62,3.58,3.54]),(2008.83,[3.71,3.67,3.63,3.59,3.55]),
(2008.90,[3.72,3.68,3.64,3.60,3.56]),(2008.97,[3.73,3.69,3.65,3.61,3.57]),(2009.04,[3.74,3.70,3.66,3.62,3.58]),
(2009.11,[3.75,3.71,3.67,3.63,3.59]),(2009.18,[3.76,3.72,3.68,3.64,3.60]),(2009.25,[3.76,3.72,3.68,3.64,3.60]),
(2009.32,[3.75,3.71,3.67,3.63,3.59]),(2009.39,[3.74,3.70,3.66,3.62,3.58]),(2009.46,[3.73,3.69,3.65,3.61,3.57]),
(2009.53,[3.74,3.70,3.66,3.62,3.58]),(2009.60,[3.76,3.72,3.68,3.64,3.60]),(2009.67,[3.73,3.69,3.65,3.61,3.57]),
(2009.74,[3.71,3.67,3.63,3.59,3.55]),(2009.81,[3.70,3.66,3.62,3.58,3.54]),(2009.88,[3.69,3.65,3.61,3.57,3.53]),
(2009.95,[3.68,3.64,3.60,3.56,3.52]),(2010.02,[3.66,3.62,3.58,3.54]),(2010.09,[3.64,3.60,3.56])]

t600_obs = [
(1981.66,3.610),(1981.80,3.610),(1982.02,3.601),(1982.31,3.536),(1982.38,3.517),(1982.55,3.554),(1982.59,3.508),
(1982.74,3.499),(1982.88,3.471),(1983.03,3.471),(1983.24,3.526),(1983.29,3.499),(1983.82,3.564),(1984.32,3.610),
(1984.39,3.554),(1984.54,3.629),(1984.47,3.536),(1984.61,3.573),(1984.76,3.582),(1985.26,3.610),(1985.33,3.591),
(1985.62,3.647),(1985.69,3.666),(1985.76,3.684),(1985.79,3.712),(1985.84,3.731),(1985.88,3.629),(1986.20,3.684),
(1986.27,3.619),(1986.34,3.675),(1986.41,3.666),(1986.51,3.666),(1986.84,3.610),(1986.92,3.582),(1986.99,3.564),
(1986.84,3.554),(1987.28,3.610),(1987.42,3.591),(1987.56,3.573),(1987.64,3.554),(1987.71,3.545),(1987.78,3.536),
(1987.71,3.647),(1987.85,3.629),(1987.93,3.573),(1988.21,3.591),(1988.29,3.554),(1988.36,3.629),(1988.43,3.656),
(1988.50,3.591),(1988.57,3.554),(1988.65,3.536),(1988.72,3.638),(1988.79,3.573),(1988.93,3.554),(1989.08,3.536),
(1989.15,3.564),(1989.22,3.582),(1989.29,3.554),(1989.37,3.619),(1989.80,3.721),(1989.84,3.721),(1990.37,3.703),
(1990.45,3.684),(1990.66,3.656),(1990.81,3.629),(1991.24,3.656),(1991.31,3.638),(1991.38,3.619),(1991.82,3.786),
(1991.82,3.759),(1991.84,3.740),(1992.10,3.694),(1992.18,3.666),(1992.25,3.647),(1992.32,3.675),(1992.39,3.629),
(1992.61,3.703),(1992.68,3.666),(1992.82,3.656),(1993.18,3.573),(1993.26,3.629),(1993.33,3.656),(1993.40,3.675),
(1993.47,3.638),(1994.48,3.666),(1994.55,3.638),(1994.63,3.610),(1994.70,3.638),(1995.13,3.740),(1995.20,3.712),
(1995.27,3.684),(1995.35,3.694),(1995.49,3.666),(1995.63,3.694),(1995.71,3.629),(1995.78,3.582),(1995.71,3.591),
(1996.14,3.591),(1996.21,3.684),(1996.21,3.554),(1996.28,3.536),(1996.35,3.582),(1996.43,3.573),(1996.64,3.610),
(1996.71,3.564),(1996.79,3.517),(1997.15,3.610),(1997.22,3.582),(1997.29,3.554),(1997.44,3.591),(1997.58,3.564),
(1997.65,3.536),(1997.72,3.471),(1998.16,3.480),(1998.44,3.536),(1998.66,3.638),(1998.40,3.547),(1998.47,3.575),
(1998.62,3.642),(1999.06,3.679),(1999.10,3.660),(1999.39,3.755),(1999.49,3.736),(1999.64,3.679),(1999.71,3.660),
(2000.36,3.594),(2000.44,3.585),(2000.51,3.575),(2000.58,3.623),(2000.65,3.632),(2001.09,3.604),(2001.45,3.566),
(2001.53,3.547),(2001.60,3.528),(2001.67,3.557),(2001.74,3.509),(2001.82,3.566),(2001.71,3.462),(2002.47,3.632),
(2002.54,3.604),(2002.61,3.660),(2002.69,3.585),(2003.05,3.604),(2003.34,3.509),(2003.41,3.481),(2003.63,3.585),
(2004.14,3.566),(2004.43,3.547),(2004.65,3.632),(2005.08,3.783),(2005.45,3.774),(2005.52,3.708),(2005.59,3.689),
(2005.66,3.698),(2006.10,3.708),(2006.10,3.632),(2006.54,3.755),(2006.61,3.736),(2006.68,3.708),(2006.75,3.670),
(2006.68,3.764),(2007.04,3.708),(2007.41,3.708),(2007.19,3.547),
(2010.38,3.623),(2010.46,3.585),(2010.53,3.547),(2010.60,3.604),(2010.68,3.566),(2010.75,3.509),(2010.82,3.547),
(2010.89,3.585),(2010.97,3.528),(2011.04,3.547),(2011.11,3.500),(2011.18,3.547),(2011.26,3.566),(2011.33,3.528),
(2011.40,3.547),(2011.47,3.566),(2012.06,3.726),(2012.13,3.698),(2012.20,3.660),(2012.27,3.651),(2012.35,3.623),
(2012.42,3.613),(2012.49,3.585),(2012.56,3.566),(2013.00,3.547),(2013.07,3.528),(2013.14,3.500),(2013.36,3.538),
(2013.51,3.566),(2013.58,3.604),(2014.06,3.755),(2014.09,3.726),(2014.16,3.689),(2014.23,3.623),(2014.31,3.604),
(2014.38,3.585),(2014.52,3.613),(2014.60,3.632),(2014.96,3.594),(2015.03,3.566),(2015.11,3.547),(2015.18,3.509),
(2015.25,3.528),(2015.32,3.557),(2015.40,3.575),(2015.54,3.575),(2016.05,3.575),(2016.12,3.547),(2016.19,3.528),
(2016.27,3.585),(2016.41,3.613),(2016.48,3.623),(2016.63,3.613),(2016.70,3.679),(2017.07,3.802),(2017.14,3.764),
(2017.21,3.755),(2017.28,3.764),(2017.43,3.849),(2017.36,3.811),(2018.08,3.660),(2018.37,3.642),(2018.45,3.679),
(2018.59,3.868),(2018.59,3.792),(2018.66,3.755),(2018.74,3.745),(2018.81,3.736),(2018.88,3.717),(2018.95,3.679),
(2019.03,3.660),(2019.10,3.642),(2019.17,3.717),(2019.24,3.736),(2019.32,3.755),(2019.39,3.764),(2019.46,3.783),
(2019.53,3.802),(2019.61,3.821),(2019.68,3.830),(2019.46,3.708)]


def expand(dense):
    out = []
    for t, vals in dense:
        for v in vals:
            out.append((t, v))
    return out


# ---------------- figure ----------------
W, H = 2067, 390
fig = plt.figure(figsize=(W / 100, H / 100), dpi=100)

pos = {
    'a': [77 / W, 1 - 175 / H, 931 / W, 150 / H],
    'b': [77 / W, 1 - 336 / H, 931 / W, 151 / H],
    'c': [1117 / W, 1 - 175 / H, 945 / W, 150 / H],
    'd': [1117 / W, 1 - 336 / H, 945 / W, 151 / H],
}

BLUE = '#0000ff'


def draw_panel(key, model, obs, ylim, yticks, yticklabels, ylabel, ylab_x, rmse, unit,
               rx, show_xlabels):
    ax = fig.add_axes(pos[key])
    mt = [p[0] for p in model]
    mv = [p[1] for p in model]
    ot = [p[0] for p in obs]
    ov = [p[1] for p in obs]
    sns.lineplot(x=mt, y=mv, ax=ax, color=BLUE, linewidth=1.3, estimator=None, sort=False, zorder=2)
    sns.scatterplot(x=ot, y=ov, ax=ax, color='black', s=27, edgecolor='none', linewidth=0, zorder=3)
    ax.set_xlim(1980, 2021)
    ax.set_ylim(*ylim)
    ax.set_xticks(year_ticks)
    if show_xlabels:
        ax.set_xticklabels([str(y) for y in year_ticks])
    else:
        ax.set_xticklabels([])
    ax.set_yticks(yticks)
    ax.set_yticklabels(yticklabels)
    ax.tick_params(axis='both', which='both', direction='in', length=5, width=1,
                   top=True, right=True, labelsize=13, colors='#262626', labelcolor='black')
    ax.tick_params(axis='x', pad=7)
    ax.tick_params(axis='y', pad=5)
    for s in ax.spines.values():
        s.set_color('#262626')
        s.set_linewidth(1.0)
    ax.set_xlabel('')
    ax.set_ylabel(ylabel, fontsize=12.5, fontweight='bold')
    ax.yaxis.set_label_coords(ylab_x, 0.5)
    ax.text(0.0107, 0.935, model_name, transform=ax.transAxes, color=BLUE,
            fontsize=14, fontweight='bold', ha='left', va='center')
    ax.text(rx[0], 0.945, 'RMSE =', transform=ax.transAxes, color='black',
            fontsize=13, fontweight='bold', ha='left', va='center')
    ax.text(rx[1], 0.945, rmse, transform=ax.transAxes, color=BLUE,
            fontsize=13, fontweight='bold', ha='left', va='center')
    ax.text(rx[2], 0.945, unit, transform=ax.transAxes, color='black',
            fontsize=13, fontweight='bold', ha='left', va='center')
    return ax


rx_left = (0.607, 0.707, 0.771)
rx_right = (0.603, 0.7005, 0.767)

draw_panel('a', s10_model, s10_obs, (32.155, 33.089), s10_ticks, s10_ticklabels,
           y_labels[0], -0.0505, rmse_values[0], rmse_units[0], rx_left, False)
draw_panel('b', t10_model, t10_obs, (4.53, 18.75), t10_ticks, t10_ticklabels,
           y_labels[1], -0.031, rmse_values[1], rmse_units[1], rx_left, True)
draw_panel('c', s600_model, expand(s600_obs_dense) + s600_obs, (34.0936, 34.286), s600_ticks,
           s600_ticklabels, y_labels[2], -0.0585, rmse_values[2], rmse_units[2], rx_right, False)
draw_panel('d', t600_model, expand(t600_obs_dense) + t600_obs, (3.2423, 4.0836), t600_ticks,
           t600_ticklabels, y_labels[3], -0.0363, rmse_values[3], rmse_units[3], rx_right, True)

# titles and labels
fig.text(542.5 / W, 1 - 12 / H, title_10, ha='center', va='center', fontsize=17, fontweight='bold')
fig.text(1589.5 / W, 1 - 12 / H, title_600, ha='center', va='center', fontsize=17, fontweight='bold')
fig.text(0.0, 1 - 27 / H, panel_labels[0], ha='left', va='center', fontsize=16, fontweight='bold')
fig.text(0.0, 1 - 188 / H, panel_labels[1], ha='left', va='center', fontsize=16, fontweight='bold')
fig.text(1040 / W, 1 - 27 / H, panel_labels[2], ha='left', va='center', fontsize=16, fontweight='bold')
fig.text(1040 / W, 1 - 188 / H, panel_labels[3], ha='left', va='center', fontsize=16, fontweight='bold')
fig.text(550 / W, 1 - 380 / H, 'Year', ha='center', va='center', fontsize=16, fontweight='bold')
fig.text(1592 / W, 1 - 380 / H, 'Year', ha='center', va='center', fontsize=16, fontweight='bold')

fig.savefig('out.png', dpi=100)
